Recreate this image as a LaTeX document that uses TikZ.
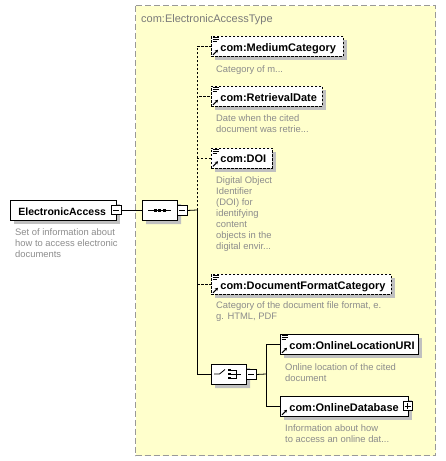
\documentclass[tikz,border=0pt]{standalone}
\usepackage{fontspec}
\setmainfont{Liberation Sans}
\usetikzlibrary{shapes.misc,shadows,arrows.meta,calc}
\definecolor{bgyellow}{HTML}{FFFFCC}
\definecolor{boxborder}{HTML}{999999}
\definecolor{titlegray}{HTML}{7A7A7A}
\definecolor{descgray}{HTML}{8C8C8C}
\definecolor{shadowgray}{HTML}{C0C0C0}
\tikzset{
  elem/.style={draw=black, fill=white, line width=0.8pt, anchor=north west, inner xsep=0pt, inner ysep=0pt,
    minimum height=20pt, text height=10pt, text depth=0pt, align=left,
    font=\fontsize{11}{12}\selectfont\bfseries,
    general shadow={fill=shadowgray, shadow xshift=4pt, shadow yshift=-4pt}},
  optelem/.style={elem, dash pattern=on 2.5pt off 1.5pt},
  desc/.style={anchor=north west, inner sep=0pt, align=left, text=descgray,
    font=\fontsize{9.4}{11}\selectfont},
  pmbox/.style={draw=black, fill=white, line width=0.7pt, minimum size=9.5pt, inner sep=0pt, anchor=west},
  octo/.style={chamfered rectangle, chamfered rectangle xsep=5pt, chamfered rectangle ysep=5pt,
    draw=black, fill=white, line width=0.8pt, minimum width=35pt, minimum height=20pt, inner sep=0pt,
    general shadow={fill=shadowgray, shadow xshift=4pt, shadow yshift=-4pt}},
  conn/.style={draw=black, line width=0.8pt},
  dconn/.style={conn, dash pattern=on 2.5pt off 1.5pt},
}
\newcommand{\dstrut}{\rule{0pt}{8pt}}
\newcommand{\lineicon}[1]{%
  \draw[line width=0.6pt] ($(#1.north west)+(1.5,1.5)$) -- ++(6,0);
  \draw[line width=0.6pt] ($(#1.north west)+(1.5,3.5)$) -- ++(6,0);
  \draw[line width=0.6pt] ($(#1.north west)+(1.5,5.5)$) -- ++(4,0);}
\newcommand{\refarrow}[1]{%
  \draw[line width=1pt, -{Stealth[length=3pt,width=3.5pt]}] ($(#1.south west)+(2,-2)$) -- ++(5,-5);}
\newcommand{\minussign}[1]{\draw[line width=0.7pt] ($(#1.west)+(2,0)$) -- ($(#1.east)+(-2,0)$);}
\newcommand{\plussign}[1]{\minussign{#1}\draw[line width=0.7pt] ($(#1.north)+(0,2)$) -- ($(#1.south)+(0,-2)$);}
\begin{document}
\begin{tikzpicture}[x=1pt,y=-1pt]
\useasboundingbox (0,0) rectangle (446,461);
% complex type box
\draw[draw=boxborder, fill=bgyellow, line width=0.8pt, dash pattern=on 6pt off 3pt] (135.5,5.5) rectangle (435.5,455.5);
\node[anchor=base west, inner sep=0pt, text=titlegray, font=\fontsize{11}{13}\selectfont] (title) at (141,22) {com:ElectronicAccessType};

% root element
\node[elem, text width=106pt, font=\fontsize{10.5}{12}\selectfont\bfseries] (ea) at (10,200) {\hspace*{8pt}ElectronicAccess};
\node[pmbox] (eam) at (111,210) {}; \minussign{eam}
\node[desc] (eadesc) at (15,227) {\dstrut Set of information about\\how to access electronic\\documents};

% sequence
\node[octo] (seq) at (159.5,210) {};
\draw[line width=0.8pt] (148,210) -- (171,210);
\foreach \xx in {155,159.5,164} \fill (\xx-1.5,208.5) rectangle (\xx+1.5,211.5);
\node[pmbox] (seqm) at (177,210.5) {}; \minussign{seqm}
\coordinate (j) at (197,210);
\draw[conn] (eam.east) -- (seq.west);
\draw[conn] (seqm.east) -- (j);

% optional elements
\node[optelem, text width=132pt] (mc) at (211,36) {\hspace*{9pt}com:MediumCategory};
\lineicon{mc}\refarrow{mc}
\node[desc] (mcdesc) at (216,64) {\dstrut Category of m...};

\node[optelem, text width=111pt] (rd) at (211,86) {\hspace*{9pt}com:RetrievalDate};
\lineicon{rd}\refarrow{rd}
\node[desc] (rddesc) at (216,113) {\dstrut Date when the cited\\document was retrie...};

\node[optelem, text width=61pt] (doi) at (211,147.5) {\hspace*{9pt}com:DOI};
\lineicon{doi}\refarrow{doi}
\node[desc] (doidesc) at (216,175) {\dstrut Digital Object\\Identifier\\(DOI) for\\identifying\\content\\objects in the\\digital envir...};

\node[optelem, text width=180pt] (dfc) at (211,274) {\hspace*{9pt}com:DocumentFormatCategory};
\lineicon{dfc}\refarrow{dfc}
\node[desc] (dfcdesc) at (216,300) {\dstrut Category of the document file format, e.\\g. HTML, PDF};

\draw[dconn] (j) |- (mc.west);
\draw[dconn] (j) |- (rd.west);
\draw[dconn] (j) |- (doi.west);
\draw[dconn] (j |- dfc.west) -- (dfc.west);

% choice
\node[octo] (ch) at (228.5,374) {};
\draw[line width=0.8pt] (214,374) -- (219.5,374) -- (225,369.5);
\foreach \yy in {370,374,378} \fill (227.5,\yy-1.3) rectangle (230.5,\yy+1.3);
\draw[line width=0.8pt] (230.5,370) -- (236,370) -- (236,378) -- (230.5,378);
\draw[line width=0.8pt] (230.5,374) -- (241,374);
\node[pmbox] (chm) at (246,374.5) {}; \minussign{chm}
\draw[conn] (j) |- (ch.west);
\coordinate (k) at (266,374);
\draw[conn] (chm.east) -- (k);

\node[elem, text width=138pt] (olu) at (280,334) {\hspace*{9pt}com:OnlineLocationURI};
\lineicon{olu}\refarrow{olu}
\node[desc] (oludesc) at (285,362) {\dstrut Online location of the cited\\document};

\node[elem, text width=128pt] (od) at (280,396) {\hspace*{9pt}com:OnlineDatabase};
\refarrow{od}
\node[pmbox] (odp) at (402.5,406) {}; \plussign{odp}
\node[desc] (oddesc) at (285,423) {\dstrut Information about how\\to access an online dat...};

\draw[conn] (k) |- (olu.west);
\draw[conn] (k) |- (od.west);
\end{tikzpicture}
\end{document}
